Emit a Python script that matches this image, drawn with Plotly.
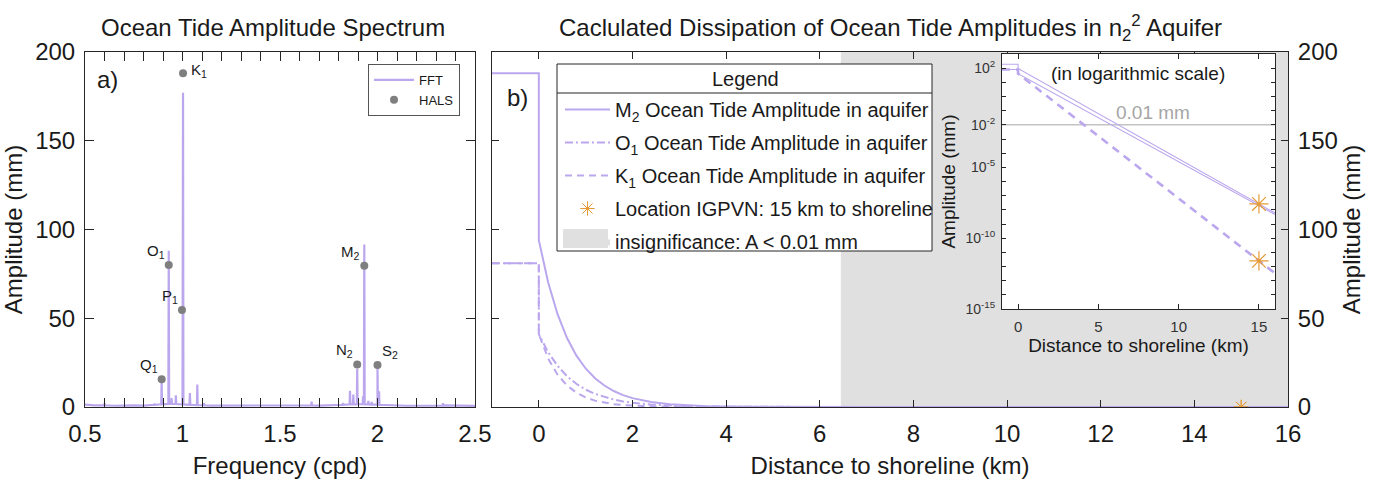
import numpy as np
import plotly.graph_objects as go

# ---------------- Panel a: ocean tide amplitude spectrum ----------------
base_freq = [0.50, 0.55, 0.60, 0.65, 0.70, 0.75, 0.80, 0.85, 0.90, 0.95, 1.00,
             1.05, 1.10, 1.15, 1.20, 1.25, 1.30, 1.35, 1.40, 1.45, 1.50, 1.55,
             1.60, 1.65, 1.70, 1.75, 1.80, 1.85, 1.90, 1.95, 2.00, 2.05, 2.10,
             2.15, 2.20, 2.25, 2.30, 2.35, 2.40, 2.45, 2.50]
base_amp = [1.3, 0.9, 1.0, 0.7, 0.8, 0.9, 0.8, 1.2, 1.6, 1.8, 1.5,
            1.2, 1.0, 0.8, 0.7, 0.8, 0.6, 0.7, 0.6, 0.7, 0.8, 0.6,
            0.7, 0.9, 0.8, 1.0, 1.1, 1.4, 1.6, 1.5, 1.3, 1.0, 0.8,
            0.7, 0.7, 0.8, 0.7, 0.9, 0.7, 0.6, 0.6]
spike_freq = [0.600, 0.730, 0.857, 0.893, 0.9295, 0.944, 0.966, 1.0027, 1.038,
              1.076, 1.110, 1.150, 1.662, 1.740, 1.823, 1.859, 1.876, 1.896,
              1.926, 1.9323, 1.953, 1.970, 2.000, 2.008, 2.070, 2.260, 2.336]
spike_amp = [2.2, 1.2, 2.0, 14.5, 88.0, 5.0, 6.6, 177.0, 7.9,
             12.6, 2.2, 1.0, 3.0, 1.2, 2.2, 9.2, 7.0, 21.5,
             6.0, 91.5, 3.5, 2.8, 23.5, 8.8, 1.2, 1.0, 2.2]

hals_labels = ['Q<sub>1</sub>', 'O<sub>1</sub>', 'P<sub>1</sub>', 'K<sub>1</sub>',
               'N<sub>2</sub>', 'M<sub>2</sub>', 'S<sub>2</sub>']
hals_freq = [0.8932, 0.9295, 0.9973, 1.0027, 1.8960, 1.9323, 2.0000]
hals_amp = [15.6, 80.0, 54.6, 188.0, 24.0, 79.6, 23.7]
hals_label_side = ['left', 'left', 'left', 'right', 'left', 'left', 'right']

# ---------------- Panel b: dissipation in aquifer ----------------
dist_km = [-1, 0, 0, 0.2, 0.4, 0.6, 0.8, 1.0, 1.2, 1.4, 1.6, 1.8, 2.0, 2.4, 2.8,
           3.2, 3.6, 4.0, 5, 6, 7, 8, 10, 12, 14, 15, 16]
m2_amp = [188, 188, 94, 70.1, 52.3, 39.0, 29.1, 21.7, 16.2, 12.1, 9.0, 6.7, 5.0,
          2.8, 1.55, 0.86, 0.48, 0.27, 0.062, 0.0143, 0.0033, 7.6e-4, 4.0e-5,
          2.1e-6, 1.1e-7, 2.6e-8, 6.0e-9]
o1_amp = [81, 81, 41, 30.8, 23.2, 17.4, 13.1, 9.8, 7.4, 5.6, 4.2, 3.1, 2.35,
          1.33, 0.75, 0.42, 0.24, 0.135, 0.032, 0.0077, 0.0018, 4.4e-4, 2.5e-5,
          1.4e-6, 8.1e-8, 1.9e-8, 4.7e-9]
k1_amp = [81, 81, 41, 27.3, 18.2, 12.2, 8.1, 5.4, 3.6, 2.4, 1.6, 1.07, 0.71,
          0.32, 0.14, 0.062, 0.028, 0.012, 0.0016, 2.1e-4, 2.8e-5, 3.7e-6,
          6.5e-8, 1.1e-9, 1.9e-11, 2.5e-12, 3.3e-13]
site_km = [15, 15]
site_amp = [2.6e-8, 2.5e-12]
insig_start_km = 6.45
threshold_mm = 0.01
dist_range = [-1, 16]
amp_range = [0, 200]

# ---------------- styling ----------------
W, H = 1386, 480
FONT = "Liberation Sans, Arial, sans-serif"
TXT = "#1a1a1a"
AX = "#262626"
LAV = "#bba7ee"
ORANGE = "#e69a35"
GREY_FILL = "#e0e0e0"


def px_x(p):
    return p / W


def px_y(p):
    return 1 - p / H


# build FFT polyline from baseline + spikes
pts = list(zip(base_freq, base_amp))
for f, a in zip(spike_freq, spike_amp):
    b = float(np.interp(f, base_freq, base_amp))
    pts += [(f - 0.002, b), (f, a), (f + 0.002, b)]
pts.sort()
fft_f = [p[0] for p in pts]
fft_a = [p[1] for p in pts]

fig = go.Figure()

# Panel a
fig.add_trace(go.Scatter(x=fft_f, y=fft_a, mode="lines", name="FFT",
                         line=dict(color=LAV, width=2.2), xaxis="x", yaxis="y",
                         legend="legend"))
fig.add_trace(go.Scatter(x=hals_freq, y=hals_amp, mode="markers", name="HALS",
                         marker=dict(color="#7f7f7f", size=8), xaxis="x", yaxis="y",
                         legend="legend"))

# Panel b: insignificance region
fig.add_trace(go.Scatter(
    x=[insig_start_km, dist_range[1], dist_range[1], insig_start_km, insig_start_km],
    y=[amp_range[0], amp_range[0], amp_range[1], amp_range[1], amp_range[0]],
    mode="lines", fill="toself", fillcolor=GREY_FILL, line=dict(width=0, color=GREY_FILL),
    name="insignificance: A < 0.01 mm", xaxis="x2", yaxis="y2", legend="legend2",
    legendgroup="g5", legendrank=5, hoverinfo="skip"))

series = [
    ("M<sub>2</sub> Ocean Tide Amplitude in aquifer", m2_amp, "solid", "g1", 1),
    ("O<sub>1</sub> Ocean Tide Amplitude in aquifer", o1_amp, "8px,3px,2px,3px", "g2", 2),
    ("K<sub>1</sub> Ocean Tide Amplitude in aquifer", k1_amp, "7px,5px", "g3", 3),
]
for name, amp, dash, grp, rank in series:
    fig.add_trace(go.Scatter(x=dist_km, y=amp, mode="lines", name=name,
                             line=dict(color=LAV, width=2, dash=dash),
                             xaxis="x2", yaxis="y2", legend="legend2",
                             legendgroup=grp, legendrank=rank))

fig.add_trace(go.Scatter(x=site_km, y=site_amp, mode="markers",
                         name="Location IGPVN: 15 km to shoreline",
                         marker=dict(symbol="asterisk-open", size=12, color=ORANGE,
                                     line=dict(color=ORANGE, width=1)),
                         xaxis="x2", yaxis="y2", legend="legend2",
                         legendgroup="g4", legendrank=4))

# Inset (log scale)
fig.add_trace(go.Scatter(x=dist_range, y=[threshold_mm, threshold_mm], mode="lines",
                         line=dict(color="#a6a6a6", width=1), showlegend=False,
                         xaxis="x3", yaxis="y3", hoverinfo="skip"))
inset_styles = [(m2_amp, "solid", 1.1, "g1"), (o1_amp, "solid", 1.1, "g2"),
                (k1_amp, "8px,6px", 2.6, "g3")]
for amp, dash, w, grp in inset_styles:
    fig.add_trace(go.Scatter(x=dist_km, y=amp, mode="lines",
                             line=dict(color=LAV, width=w, dash=dash),
                             showlegend=False, legendgroup=grp,
                             xaxis="x3", yaxis="y3"))
fig.add_trace(go.Scatter(x=site_km, y=site_amp, mode="markers", showlegend=False,
                         marker=dict(symbol="asterisk-open", size=16, color=ORANGE,
                                     line=dict(color=ORANGE, width=1.2)),
                         legendgroup="g4", xaxis="x3", yaxis="y3"))

axis_common = dict(showline=True, linecolor=AX, linewidth=1, mirror="ticks",
                   ticks="inside", tickcolor=AX, showgrid=False, zeroline=False,
                   automargin=False, tickfont=dict(size=24, color=TXT, family=FONT))

dec = list(range(-15, 4))
log_tickvals = [10.0 ** k for k in dec]
labeled = {2, -2, -5, -10, -15}
log_ticktext = [f"10<sup>{k}</sup>" if k in labeled else "" for k in dec]

fig.update_layout(
    width=W, height=H,
    margin=dict(l=0, r=0, t=0, b=0),
    paper_bgcolor="white", plot_bgcolor="white",
    font=dict(family=FONT, color=TXT),
    xaxis=dict(axis_common, domain=[px_x(85), px_x(475)], range=[0.5, 2.5],
               tick0=0.5, dtick=0.5, ticklen=9,
               minor=dict(dtick=0.1, ticks="inside", ticklen=9, tickcolor=AX),
               ticklabelstandoff=5,
               title=dict(text="Frequency (cpd)", font=dict(size=24), standoff=11),
               anchor="y"),
    yaxis=dict(axis_common, domain=[px_y(407), px_y(52)], range=[0, 200],
               dtick=50, ticklen=9, ticklabelstandoff=4,
               title=dict(text="Amplitude (mm)", font=dict(size=24), standoff=6),
               anchor="x"),
    xaxis2=dict(axis_common, domain=[px_x(492), px_x(1288)], range=dist_range,
                tick0=0, dtick=2, ticklen=7, ticklabelstandoff=5,
                title=dict(text="Distance to shoreline (km)", font=dict(size=24), standoff=11),
                anchor="y2"),
    yaxis2=dict(axis_common, domain=[px_y(407), px_y(52)], range=amp_range,
                dtick=50, ticklen=7, side="right", ticklabelstandoff=4,
                title=dict(text="Amplitude (mm)", font=dict(size=24), standoff=6),
                anchor="x2"),
    xaxis3=dict(axis_common, domain=[px_x(1002), px_x(1275)], range=dist_range,
                tickvals=[0, 5, 10, 15], ticklen=5, ticklabelstandoff=4,
                tickfont=dict(size=15, color="#333333", family=FONT),
                title=dict(text="Distance to shoreline (km)", font=dict(size=19), standoff=2),
                anchor="y3"),
    yaxis3=dict(axis_common, domain=[px_y(309), px_y(54)], type="log", range=[-15, 3],
                tickvals=log_tickvals, ticktext=log_ticktext, ticklen=4,
                ticklabelstandoff=3,
                tickfont=dict(size=14, color="#333333", family=FONT),
                title=dict(text="Amplitude (mm)", font=dict(size=19), standoff=4),
                anchor="x3"),
    legend=dict(x=px_x(368), y=px_y(64), xanchor="left", yanchor="top",
                bgcolor="white", bordercolor="#555555", borderwidth=1,
                font=dict(size=13, family=FONT, color=TXT), tracegroupgap=0,
                itemwidth=40),
    legend2=dict(x=px_x(560), y=px_y(90), xanchor="left", yanchor="top",
                 bgcolor="rgba(0,0,0,0)", borderwidth=0,
                 font=dict(size=20, family=FONT, color=TXT),
                 traceorder="grouped", tracegroupgap=4, itemwidth=45),
    showlegend=True,
)

# legend frame for panel b (title + separator + area patch)
fig.add_shape(type="rect", xref="paper", yref="paper", x0=px_x(557), x1=px_x(932),
              y0=px_y(251), y1=px_y(64), fillcolor="white",
              line=dict(color=AX, width=1), layer="above")
fig.add_shape(type="line", xref="paper", yref="paper", x0=px_x(557), x1=px_x(932),
              y0=px_y(93), y1=px_y(93), line=dict(color=AX, width=1), layer="above")
fig.add_shape(type="rect", xref="paper", yref="paper", x0=px_x(563), x1=px_x(608),
              y0=px_y(248), y1=px_y(229), fillcolor=GREY_FILL,
              line=dict(width=0), layer="above")

ann = [
    dict(text="Ocean Tide Amplitude Spectrum", x=px_x(273), y=px_y(27),
         font=dict(size=24)),
    dict(text="Caclulated Dissipation of Ocean Tide Amplitudes in n<sub>2</sub><sup>2</sup> Aquifer",
         x=px_x(890), y=px_y(28), font=dict(size=24)),
    dict(text="a)", x=px_x(107), y=px_y(80), font=dict(size=24)),
    dict(text="b)", x=px_x(517), y=px_y(98), font=dict(size=24)),
    dict(text="Legend", x=px_x(745), y=px_y(79), font=dict(size=20)),
    dict(text="(in logarithmic scale)", x=px_x(1138), y=px_y(73), font=dict(size=19)),
]
for a in ann:
    fig.add_annotation(xref="paper", yref="paper", showarrow=False,
                       xanchor="center", yanchor="middle", **a)

fig.add_annotation(text="0.01 mm", xref="x3", yref="y3", x=8.4, y=np.log10(threshold_mm),
                   xanchor="center", yanchor="bottom", yshift=0, showarrow=False,
                   font=dict(size=19, color="#a6a6a6"))

for lab, f, a, side in zip(hals_labels, hals_freq, hals_amp, hals_label_side):
    if side == "right":
        if a > 150:
            fig.add_annotation(text=lab, xref="x", yref="y", x=f, y=a, xanchor="left",
                               yanchor="middle", xshift=6, yshift=3, showarrow=False,
                               font=dict(size=15))
        else:
            fig.add_annotation(text=lab, xref="x", yref="y", x=f, y=a, xanchor="left",
                               yanchor="bottom", xshift=2, yshift=2, showarrow=False,
                               font=dict(size=15))
    else:
        fig.add_annotation(text=lab, xref="x", yref="y", x=f, y=a, xanchor="right",
                           yanchor="bottom", xshift=-2, yshift=2, showarrow=False,
                           font=dict(size=15))

fig.write_html("out.html", config={"displayModeBar": False},
               post_script="document.body.style.margin='0';document.body.style.padding='0';")
